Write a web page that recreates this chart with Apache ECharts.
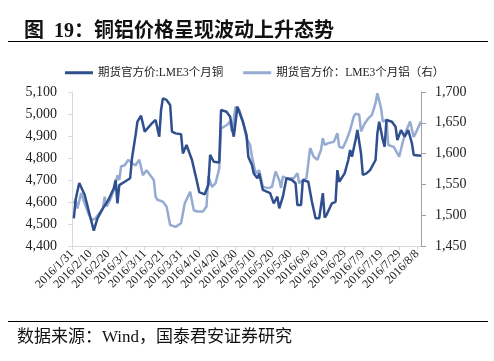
<!DOCTYPE html>
<html><head><meta charset="utf-8">
<script src="https://cdn.jsdelivr.net/npm/echarts@6/dist/echarts.min.js"></script>
<style>html,body{margin:0;padding:0;background:#fff;}#c{width:494px;height:361px;}</style>
</head><body><div id="c"></div>
<script>
const tickLabels = ['2016/1/31','2016/2/10','2016/2/20','2016/3/1','2016/3/11','2016/3/21','2016/3/31','2016/4/10','2016/4/20','2016/4/30','2016/5/10','2016/5/20','2016/5/30','2016/6/9','2016/6/19','2016/6/29','2016/7/9','2016/7/19','2016/7/29','2016/8/8'];
const cuDates = ['02-01','02-02','02-03','02-04','02-07','02-10','02-12','02-14','02-17','02-20','02-23','02-24','02-25','02-26','02-29',
'03-03','03-04','03-06','03-07','03-09','03-11','03-12','03-15','03-17','03-19','03-20','03-21','03-23','03-25','03-26','03-28','03-31',
'04-01','04-03','04-06','04-08','04-10','04-13','04-15','04-16','04-17','04-18','04-21','04-22','04-25','04-27','04-28','04-29',
'05-01','05-02','05-04','05-06','05-07','05-09','05-10','05-12','05-13','05-15','05-19','05-21','05-23','05-24','05-26','05-28','05-31',
'06-02','06-03','06-05','06-06','06-09','06-11','06-13','06-15','06-16','06-17','06-18','06-19','06-22','06-24','06-25','06-26','06-29',
'07-01','07-02','07-03','07-05','07-06','07-08','07-09','07-11','07-13','07-16','07-17','07-18','07-20','07-21','07-22','07-25','07-27','07-28','07-30',
'08-01','08-03','08-05','08-06','08-10'];
const cuValues = [4526,4610,4650,4686,4632,4533,4470,4526,4571,4609,4662,4700,4594,4677,4692,
4708,4799,4905,4965,4992,4920,4912,4958,4973,4897,5018,5071,5064,5041,4920,4912,4908,
4821,4859,4791,4720,4645,4635,4677,4814,4806,4783,4780,5018,5010,4988,4935,4897,
5033,5026,4965,4905,4806,4768,4730,4708,4730,4655,4640,4594,4624,4571,4624,4708,4700,
4685,4586,4586,4700,4692,4601,4526,4526,4526,4640,4530,4541,4594,4601,4745,4692,4730,
4791,4836,4806,4882,4927,4821,4723,4730,4745,4791,4912,4965,4882,4851,4973,4965,4942,4882,4927,
4897,4927,4867,4814,4810];
const alDates = ['02-01','02-02','02-03','02-05','02-07','02-09','02-11','02-13','02-15','02-17','02-18','02-19','02-21','02-23','02-24','02-25','02-26','02-27','02-29',
'03-02','03-04','03-06','03-08','03-10','03-12','03-14','03-16','03-17','03-18','03-21','03-23','03-25','03-28','03-31',
'04-02','04-05','04-06','04-07','04-09','04-12','04-14','04-15','04-17','04-19','04-21','04-22','04-25','04-27','04-28','04-30',
'05-02','05-04','05-06','05-08','05-09','05-11','05-13','05-15','05-18','05-20','05-22','05-24','05-25','05-26','05-28',
'06-01','06-03','06-04','06-06','06-08','06-10','06-12','06-14','06-16','06-17','06-18','06-20','06-23','06-25','06-26','06-28','06-30',
'07-02','07-04','07-05','07-07','07-08','07-10','07-12','07-14','07-16','07-17','07-19','07-20','07-22','07-23','07-26','07-27','07-29','07-31',
'08-02','08-04','08-06','08-07','08-10'];
const alValues = [1519,1525,1511,1536,1519,1503,1492,1495,1503,1511,1530,1514,1525,1541,1552,1565,1557,1579,1581,
1590,1584,1581,1590,1565,1573,1565,1557,1530,1525,1522,1514,1484,1481,1487,
1519,1538,1536,1508,1506,1506,1514,1563,1546,1552,1576,1641,1646,1652,1636,1676,
1671,1652,1625,1614,1595,1568,1573,1546,1544,1546,1571,1557,1544,1563,1560,
1560,1568,1552,1557,1560,1609,1595,1590,1606,1625,1614,1617,1619,1633,1611,1609,1622,
1638,1660,1665,1663,1636,1649,1657,1663,1682,1698,1674,1652,1655,1614,1611,1614,1595,1619,
1638,1652,1627,1633,1652];

const base = Date.UTC(2016,0,31);
function dayOf(md){ const p = md.split('-'); return (Date.UTC(2016, +p[0]-1, +p[1]) - base)/86400000; }
const cuData = cuDates.map((d,i)=>[dayOf(d), cuValues[i]]);
const alData = alDates.map((d,i)=>[dayOf(d), alValues[i]]);

const FONT = '"Liberation Serif", "Noto Sans CJK SC", serif';
const chart = echarts.init(document.getElementById('c'));
const fmt = v => v.toLocaleString('en-US');
chart.setOption({
  animation:false,
  backgroundColor:'#fff',
  title:{text:'图  19：铜铝价格呈现波动上升态势', left:19, top:17,
    textStyle:{fontSize:20, fontWeight:'bold', color:'#111', fontFamily:FONT}},
  legend:{left:60, top:62, icon:'rect', itemWidth:28, itemHeight:3, itemGap:20,
    textStyle:{fontSize:11.5, color:'#222', fontFamily:FONT}},
  grid:{left:72, right:73, top:92, bottom:115},
  xAxis:{type:'value', min:0, max:192, interval:10,
    axisLine:{lineStyle:{color:'#d9d9d9'}},
    axisTick:{show:true, length:4, lineStyle:{color:'#d9d9d9'}},
    splitLine:{show:false},
    axisLabel:{rotate:45, fontSize:12, color:'#222', fontFamily:FONT, margin:6,
      showMaxLabel:false,
      formatter:v=>{ if(v%10!==0) return ''; const k=v/10; return k<tickLabels.length?tickLabels[k]:''; }}},
  yAxis:[
    {type:'value', min:4400, max:5100, interval:100,
     axisLine:{show:true, lineStyle:{color:'#d9d9d9'}},
     axisTick:{show:true, length:4, lineStyle:{color:'#d9d9d9'}},
     splitLine:{show:false},
     axisLabel:{fontSize:14, color:'#222', fontFamily:FONT, margin:15, formatter:fmt}},
    {type:'value', min:1450, max:1700, interval:50, position:'right',
     axisLine:{show:true, lineStyle:{color:'#a0a0a0'}},
     axisTick:{show:true, length:5, lineStyle:{color:'#a0a0a0'}},
     splitLine:{show:false},
     axisLabel:{fontSize:14, color:'#222', fontFamily:FONT, margin:14, formatter:fmt}}
  ],
  series:[
    {name:'期货官方价:LME3个月铜', type:'line', yAxisIndex:0, data:cuData, symbol:'none',
     lineStyle:{color:'#2f4f8f', width:2.5}, itemStyle:{color:'#2f4f8f'}, z:3},
    {name:'期货官方价：LME3个月铝（右）', type:'line', yAxisIndex:1, data:alData, symbol:'none',
     lineStyle:{color:'#96abd2', width:2.5}, itemStyle:{color:'#96abd2'}, z:2}
  ],
  graphic:[
    {type:'line', shape:{x1:8,y1:41.5,x2:488,y2:41.5}, style:{stroke:'#000', lineWidth:1.2}},
    {type:'line', shape:{x1:8,y1:321.5,x2:488,y2:321.5}, style:{stroke:'#000', lineWidth:1.2}},
    {type:'text', left:17, top:329, style:{text:'数据来源：Wind，国泰君安证券研究', fontSize:17, fill:'#111', fontFamily:FONT}}
  ]
});
</script></body></html>
